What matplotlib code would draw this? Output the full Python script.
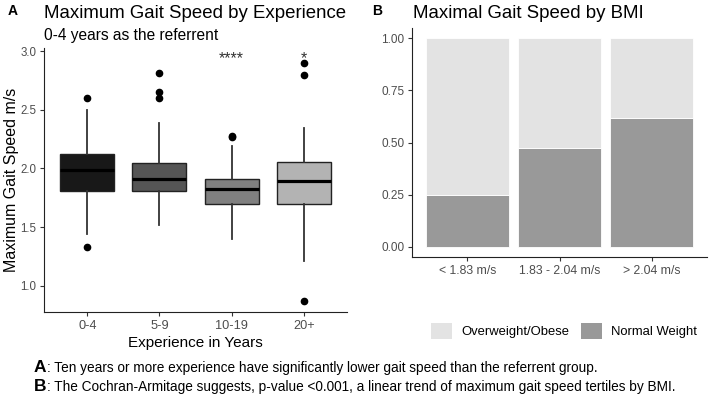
import matplotlib
matplotlib.use("Agg")
import matplotlib.pyplot as plt
from matplotlib.patches import Patch

plt.rcParams['font.family'] = ['Liberation Sans', 'DejaVu Sans']

# panel A: box summaries
groups = ["0-4", "5-9", "10-19", "20+"]
q1 = [1.81, 1.81, 1.695, 1.70]
med = [1.99, 1.91, 1.826, 1.89]
q3 = [2.125, 2.05, 1.91, 2.055]
whislo = [1.44, 1.52, 1.40, 1.215]
whishi = [2.50, 2.39, 2.19, 2.345]
outliers = [[2.60, 1.33], [2.81, 2.65, 2.60], [2.28, 2.27], [2.90, 2.80, 0.87]]
stars = ["", "", "****", "*"]
box_colours = ["#181818", "#555555", "#808080", "#b3b3b3"]

# panel B: proportions by tertile
tertiles = ["< 1.83 m/s", "1.83 - 2.04 m/s", "> 2.04 m/s"]
normal = [0.25, 0.475, 0.62]
overweight = [1 - v for v in normal]

W, H = 709, 395


def px_axes(fig, left, top, right, bottom):
    return fig.add_axes([left / W, 1 - bottom / H, (right - left) / W, (bottom - top) / H])


def style(ax, xsize, ysize):
    ax.spines['top'].set_visible(False)
    ax.spines['right'].set_visible(False)
    ax.spines['left'].set_color("#222222")
    ax.spines['bottom'].set_color("#222222")
    ax.tick_params(colors="#333333", labelcolor="#4d4d4d", length=3, width=0.8, pad=2.5)
    ax.tick_params(axis="x", labelsize=xsize)
    ax.tick_params(axis="y", labelsize=ysize)


def ftext(xp, yp, s, **kw):
    fig.text(xp / W, 1 - yp / H, s, va="baseline", **kw)


fig = plt.figure(figsize=(7.09, 3.95), dpi=100)

# ---- panel A ----
ax = px_axes(fig, 44, 48, 347, 312)
stats = []
for i in range(len(groups)):
    stats.append({"med": med[i], "q1": q1[i], "q3": q3[i],
                  "whislo": whislo[i], "whishi": whishi[i],
                  "fliers": outliers[i], "label": groups[i]})
bp = ax.bxp(stats, positions=[1, 2, 3, 4], widths=0.75, patch_artist=True,
            boxprops=dict(edgecolor="#222222", linewidth=1.0),
            medianprops=dict(color="black", linewidth=2.3),
            whiskerprops=dict(color="#333333", linewidth=1.3),
            capprops=dict(linewidth=0),
            flierprops=dict(marker="o", markerfacecolor="black",
                            markeredgecolor="black", markersize=4.5))
for patch, c in zip(bp["boxes"], box_colours):
    patch.set_facecolor(c)
for i, s in enumerate(stars):
    if s:
        ax.text(i + 1, 2.897, s, ha="center", va="baseline", fontsize=11.5, color="#333333")
ax.set_xlim(0.4, 4.6)
ax.set_ylim(0.778, 3.026)
ax.set_yticks([1.0, 1.5, 2.0, 2.5, 3.0])
ax.set_yticklabels(["1.0", "1.5", "2.0", "2.5", "3.0"])
ax.set_xlabel("Experience in Years", fontsize=11, labelpad=3)
ax.set_ylabel("Maximum Gait Speed m/s", fontsize=11.5, labelpad=1)
style(ax, 9.2, 8.3)

ftext(8, 15, "A", fontsize=10, fontweight="bold")
ftext(44, 18, "Maximum Gait Speed by Experience", fontsize=13.4)
ftext(44, 40, "0-4 years as the referrent", fontsize=11.2)

# ---- panel B ----
bx = px_axes(fig, 412, 28, 707, 257)
x = [1, 2, 3]
bx.bar(x, normal, width=0.9, color="#999999", edgecolor="white", linewidth=0.6)
bx.bar(x, overweight, width=0.9, bottom=normal, color="#e3e3e3", edgecolor="white", linewidth=0.6)
bx.set_xticks(x)
bx.set_xticklabels(tertiles)
bx.set_yticks([0, 0.25, 0.5, 0.75, 1.0])
bx.set_yticklabels(["0.00", "0.25", "0.50", "0.75", "1.00"])
bx.set_xlim(0.4, 3.6)
bx.set_ylim(-0.05, 1.05)
style(bx, 8.8, 8.5)

ftext(372, 15, "B", fontsize=10, fontweight="bold")
ftext(413, 18, "Maximal Gait Speed by BMI", fontsize=13.4)

handles = [Patch(facecolor="#e3e3e3", edgecolor="none", label="Overweight/Obese"),
           Patch(facecolor="#999999", edgecolor="none", label="Normal Weight")]
fig.legend(handles=handles, loc="center", bbox_to_anchor=(564 / W, 1 - 331 / H),
           ncol=2, frameon=False, fontsize=9.4, handlelength=1.6, handleheight=1.6,
           columnspacing=0.9, handletextpad=0.7, borderpad=0, borderaxespad=0)

# ---- captions ----
ftext(34, 372, "A", fontsize=12.5, fontweight="bold")
ftext(47, 372, ": Ten years or more experience have significantly lower gait speed than the referrent group.",
      fontsize=9.8)
ftext(34, 391, "B", fontsize=12.5, fontweight="bold")
ftext(47, 391, ": The Cochran-Armitage suggests, p-value <0.001, a linear trend of maximum gait speed tertiles by BMI.",
      fontsize=9.8)

fig.savefig("out.png", dpi=100)
